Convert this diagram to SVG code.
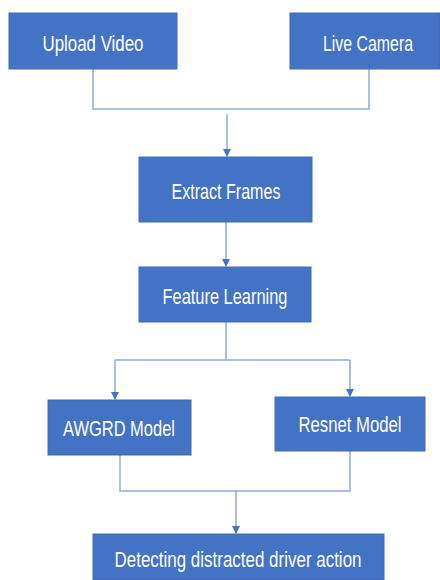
<svg xmlns="http://www.w3.org/2000/svg" width="440" height="580" viewBox="0 0 440 580">
<style>
.box{fill:#4472C4;stroke:#3F6CB8;stroke-width:1}
.lbl{fill:#ffffff;font-family:"Liberation Sans",Arial,sans-serif;font-size:22px;text-anchor:middle}
.con{fill:none;stroke:#8FAADC;stroke-width:1.5}
</style>
<defs>
<marker id="ah" markerWidth="8" markerHeight="8" refX="7" refY="4" orient="auto" markerUnits="userSpaceOnUse">
<path d="M0,0 L8,4 L0,8 Z" fill="#4472C4"/>
</marker>
</defs>
<rect width="440" height="580" fill="#ffffff"/>
<g id="connectors">
<path class="con" d="M93,69 V109 H369 V69"/>
<path class="con" d="M227,114 V156" marker-end="url(#ah)"/>
<path class="con" d="M226,222 V266" marker-end="url(#ah)"/>
<path class="con" d="M226,322 V360 M115,360 H350"/>
<path class="con" d="M115,360 V399" marker-end="url(#ah)"/>
<path class="con" d="M350,360 V396" marker-end="url(#ah)"/>
<path class="con" d="M120,455 V491 H350 V451"/>
<path class="con" d="M236,491 V533" marker-end="url(#ah)"/>
</g>
<g id="upload-video">
<rect class="box" x="9" y="13" width="168" height="56"/>
<text class="lbl" x="93" y="51" textLength="101" lengthAdjust="spacingAndGlyphs">Upload Video</text>
</g>
<g id="live-camera">
<rect class="box" x="290" y="13" width="149.5" height="56"/>
<text class="lbl" x="368" y="51" textLength="90" lengthAdjust="spacingAndGlyphs">Live Camera</text>
</g>
<g id="extract-frames">
<rect class="box" x="139" y="157" width="173" height="65"/>
<text class="lbl" x="226" y="199" textLength="109" lengthAdjust="spacingAndGlyphs">Extract Frames</text>
</g>
<g id="feature-learning">
<rect class="box" x="139" y="267" width="172" height="55"/>
<text class="lbl" x="225" y="304" textLength="125" lengthAdjust="spacingAndGlyphs">Feature Learning</text>
</g>
<g id="awgrd-model">
<rect class="box" x="48" y="400" width="143" height="55"/>
<text class="lbl" x="119" y="436" textLength="112" lengthAdjust="spacingAndGlyphs">AWGRD Model</text>
</g>
<g id="resnet-model">
<rect class="box" x="275" y="397" width="150" height="54"/>
<text class="lbl" x="350" y="432" textLength="103" lengthAdjust="spacingAndGlyphs">Resnet Model</text>
</g>
<g id="detecting">
<rect class="box" x="93" y="534" width="291" height="45.5"/>
<text class="lbl" x="238" y="567" textLength="247" lengthAdjust="spacingAndGlyphs">Detecting distracted driver action</text>
</g>
</svg>
